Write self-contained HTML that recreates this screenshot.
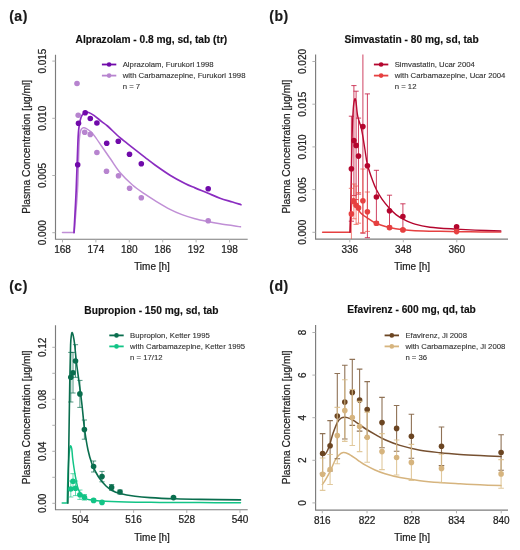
<!DOCTYPE html>
<html><head><meta charset="utf-8"><style>
html,body{margin:0;padding:0;background:#fff;}
svg{display:block;filter:blur(0.35px);}
text{font-family:"Liberation Sans", sans-serif;fill:#222;stroke:#222;stroke-width:0.22px;}
.tl{font-size:10px;}
.al{font-size:10.2px;}
.ti{font-size:10.2px;font-weight:bold;fill:#111;stroke:#111;stroke-width:0.15px;}
.pl{font-size:14px;font-weight:bold;fill:#1a1a1a;stroke:#1a1a1a;stroke-width:0.2px;letter-spacing:0.5px;}
.lg{font-size:7.75px;fill:#333;stroke:#333;stroke-width:0.12px;}
</style></head><body>
<svg width="520" height="550" viewBox="0 0 520 550">
<defs><clipPath id="cb"><rect x="316" y="54.6" width="192" height="184.4"/></clipPath></defs>
<rect width="520" height="550" fill="#fff"/>
<path d="M55.5 54.8V239.2H247.7" fill="none" stroke="#7c7c7c" stroke-width="1.15"/>
<path d="M62.5 239.2v3.2M95.9 239.2v3.2M129.3 239.2v3.2M162.71 239.2v3.2M196.11 239.2v3.2M229.51 239.2v3.2M55.5 232.7h-3.2M55.5 175.5h-3.2M55.5 118.3h-3.2M55.5 61.1h-3.2" stroke="#a8a8a8" stroke-width="0.9"/>
<text x="62.5" y="252.6" text-anchor="middle" class="tl">168</text>
<text x="95.9" y="252.6" text-anchor="middle" class="tl">174</text>
<text x="129.3" y="252.6" text-anchor="middle" class="tl">180</text>
<text x="162.71" y="252.6" text-anchor="middle" class="tl">186</text>
<text x="196.11" y="252.6" text-anchor="middle" class="tl">192</text>
<text x="229.51" y="252.6" text-anchor="middle" class="tl">198</text>
<text transform="translate(46 232.7) rotate(-90)" text-anchor="middle" class="tl">0.000</text>
<text transform="translate(46 175.5) rotate(-90)" text-anchor="middle" class="tl">0.005</text>
<text transform="translate(46 118.3) rotate(-90)" text-anchor="middle" class="tl">0.010</text>
<text transform="translate(46 61.1) rotate(-90)" text-anchor="middle" class="tl">0.015</text>
<text x="152" y="270" text-anchor="middle" class="tl">Time [h]</text>
<text transform="translate(30.3 146.8) rotate(-90)" text-anchor="middle" class="tl al">Plasma Concentration [µg/ml]</text>
<text x="151.4" y="43.1" text-anchor="middle" class="ti">Alprazolam - 0.8 mg, sd, tab (tr)</text>
<text x="9.2" y="20.9" class="pl">(a)</text>
<path d="M62.5 232.6L74.2 232.6C74.75 225.5 76.7 204.6 77.5 190C78.3 175.4 78.55 154.58 79 145C79.45 135.42 79.73 135.22 80.2 132.5C80.67 129.78 81.25 129.48 81.8 128.7C82.35 127.92 82.8 127.87 83.5 127.8C84.2 127.73 84.75 127.62 86 128.3C87.25 128.98 89.5 130.52 91 131.9C92.5 133.28 93.22 134.22 95 136.6C96.78 138.98 99.13 142.5 101.7 146.2C104.27 149.9 107.35 154.42 110.4 158.8C113.45 163.18 116.32 168.13 120 172.5C123.68 176.87 128.33 181.38 132.5 185C136.67 188.62 141.25 191.6 145 194.2C148.75 196.8 150.83 198.08 155 200.6C159.17 203.12 165.5 206.97 170 209.3C174.5 211.63 177.83 213.03 182 214.6C186.17 216.17 190.75 217.55 195 218.7C199.25 219.85 203.33 220.65 207.5 221.5C211.67 222.35 214.5 222.92 220 223.8C225.5 224.68 237.08 226.3 240.5 226.8" fill="none" stroke="#c08fd6" stroke-width="1.5" stroke-linejoin="round" stroke-linecap="round"/>
<path d="M74 232.6C74.37 225.5 75.53 205.43 76.2 190C76.87 174.57 77.48 150.83 78 140C78.52 129.17 78.8 128.75 79.3 125C79.8 121.25 80.38 119.33 81 117.5C81.62 115.67 82.25 114.83 83 114C83.75 113.17 84.55 112.75 85.5 112.5C86.45 112.25 87.3 112.02 88.7 112.5C90.1 112.98 91.73 113.88 93.9 115.4C96.07 116.92 99.43 119.83 101.7 121.6C103.97 123.37 104.45 123.32 107.5 126C110.55 128.68 115.83 134.1 120 137.7C124.17 141.3 128.33 144.32 132.5 147.6C136.67 150.88 141.25 154.5 145 157.4C148.75 160.3 150.83 162.03 155 165C159.17 167.97 165 172.12 170 175.2C175 178.28 180.83 181.38 185 183.5C189.17 185.62 191.25 186.32 195 187.9C198.75 189.48 203.33 191.28 207.5 193C211.67 194.72 215.83 196.7 220 198.2C224.17 199.7 229 200.92 232.5 202C236 203.08 239.58 204.25 241 204.7" fill="none" stroke="#8a2cc0" stroke-width="1.7" stroke-linejoin="round" stroke-linecap="round"/>
<circle cx="78.5" cy="123.3" r="2.8" fill="#700aaa"/><circle cx="85.2" cy="112.8" r="2.8" fill="#700aaa"/><circle cx="90.3" cy="118.5" r="2.8" fill="#700aaa"/><circle cx="96.9" cy="123" r="2.8" fill="#700aaa"/><circle cx="106.7" cy="143.2" r="2.8" fill="#700aaa"/><circle cx="118.3" cy="141.2" r="2.8" fill="#700aaa"/><circle cx="129.5" cy="154.2" r="2.8" fill="#700aaa"/><circle cx="141.3" cy="163.8" r="2.8" fill="#700aaa"/><circle cx="77.7" cy="164.8" r="2.8" fill="#700aaa"/><circle cx="208.2" cy="188.8" r="2.8" fill="#700aaa"/>
<circle cx="78.2" cy="115.2" r="2.8" fill="#b784cf"/><circle cx="84.7" cy="132.2" r="2.8" fill="#b784cf"/><circle cx="90.3" cy="134.4" r="2.8" fill="#b784cf"/><circle cx="96.9" cy="152.5" r="2.8" fill="#b784cf"/><circle cx="106.5" cy="171.3" r="2.8" fill="#b784cf"/><circle cx="118.5" cy="175.8" r="2.8" fill="#b784cf"/><circle cx="129.6" cy="188.3" r="2.8" fill="#b784cf"/><circle cx="141.3" cy="197.8" r="2.8" fill="#b784cf"/><circle cx="77" cy="83.5" r="2.8" fill="#b784cf"/><circle cx="208.2" cy="220.8" r="2.8" fill="#b784cf"/>
<path d="M101.9 64.5h14.4" stroke="#700aaa" stroke-width="1.8"/>
<circle cx="109.1" cy="64.5" r="2.3" fill="#700aaa"/>
<text x="122.7" y="67.3" class="lg">Alprazolam, Furukori 1998</text>
<path d="M101.9 75.6h14.4" stroke="#b784cf" stroke-width="1.8"/>
<circle cx="109.1" cy="75.6" r="2.3" fill="#b784cf"/>
<text x="122.7" y="78.4" class="lg">with Carbamazepine, Furukori 1998</text>
<text x="122.7" y="89" class="lg">n = 7</text>
<path d="M315.6 54.6V239.1H508" fill="none" stroke="#7c7c7c" stroke-width="1.15"/>
<path d="M349.8 239.1v3.2M403.3 239.1v3.2M456.79 239.1v3.2M315.6 232.3h-3.2M315.6 189.6h-3.2M315.6 146.9h-3.2M315.6 104.2h-3.2M315.6 61.5h-3.2" stroke="#a8a8a8" stroke-width="0.9"/>
<text x="349.8" y="252.5" text-anchor="middle" class="tl">336</text>
<text x="403.3" y="252.5" text-anchor="middle" class="tl">348</text>
<text x="456.79" y="252.5" text-anchor="middle" class="tl">360</text>
<text transform="translate(306.1 232.3) rotate(-90)" text-anchor="middle" class="tl">0.000</text>
<text transform="translate(306.1 189.6) rotate(-90)" text-anchor="middle" class="tl">0.005</text>
<text transform="translate(306.1 146.9) rotate(-90)" text-anchor="middle" class="tl">0.010</text>
<text transform="translate(306.1 104.2) rotate(-90)" text-anchor="middle" class="tl">0.015</text>
<text transform="translate(306.1 61.5) rotate(-90)" text-anchor="middle" class="tl">0.020</text>
<text x="412.2" y="269.9" text-anchor="middle" class="tl">Time [h]</text>
<text transform="translate(290.4 146.65) rotate(-90)" text-anchor="middle" class="tl al">Plasma Concentration [µg/ml]</text>
<text x="411.6" y="42.9" text-anchor="middle" class="ti">Simvastatin - 80 mg, sd, tab</text>
<text x="269.3" y="20.9" class="pl">(b)</text>
<path d="M322.6 232.3L350.1 232.3C350.22 229.42 350.52 220.05 350.8 215C351.08 209.95 351.43 204.75 351.8 202C352.17 199.25 352.53 198.87 353 198.5C353.47 198.13 354.02 198.8 354.6 199.8C355.18 200.8 355.67 202.53 356.5 204.5C357.33 206.47 358.52 209.85 359.6 211.6C360.68 213.35 361.8 214 363 215C364.2 216 364.95 216.38 366.8 217.6C368.65 218.82 371.9 221.1 374.1 222.3C376.3 223.5 377.45 223.92 380 224.8C382.55 225.68 385.57 226.77 389.4 227.6C393.23 228.43 398.73 229.28 403 229.8C407.27 230.32 408.83 230.45 415 230.7C421.17 230.95 430.83 231.12 440 231.3C449.17 231.48 459.87 231.68 470 231.8C480.13 231.92 495.67 231.97 500.8 232" fill="none" stroke="#e64040" stroke-width="1.5" stroke-linejoin="round" stroke-linecap="round"/>
<path d="M350.1 232.3C350.23 226.92 350.58 215.38 350.9 200C351.22 184.62 351.62 155 352 140C352.38 125 352.77 116.75 353.2 110C353.63 103.25 354.15 101 354.6 99.5C355.05 98 355.38 98.22 355.9 101C356.42 103.78 356.77 111.52 357.7 116.2C358.63 120.88 360.33 123.8 361.5 129.1C362.67 134.4 363.72 142.1 364.7 148C365.68 153.9 366.12 159.17 367.4 164.5C368.68 169.83 370.88 175.78 372.4 180C373.92 184.22 374.9 186.6 376.5 189.8C378.1 193 379.85 196.12 382 199.2C384.15 202.28 387.07 205.73 389.4 208.3C391.73 210.87 393.7 212.8 396 214.6C398.3 216.4 400.03 217.5 403.2 219.1C406.37 220.7 410.53 222.85 415 224.2C419.47 225.55 423.17 226.38 430 227.2C436.83 228.02 448.5 228.62 456 229.1C463.5 229.58 467.53 229.8 475 230.1C482.47 230.4 496.5 230.77 500.8 230.9" fill="none" stroke="#b4062e" stroke-width="1.4" stroke-linejoin="round" stroke-linecap="round"/>
<path d="M351.4 116.2V221.2M348.8 116.2h5.2M348.8 221.2h5.2M353.9 85.6V195.6M351.3 85.6h5.2M351.3 195.6h5.2M356.1 91.2V199.6M353.5 91.2h5.2M353.5 199.6h5.2M358.5 118.1V194.1M355.9 118.1h5.2M355.9 194.1h5.2M362.9 20V233.2M360.3 20h5.2M360.3 233.2h5.2M367.4 93.9V237.7M364.8 93.9h5.2M364.8 237.7h5.2M376.4 170.3V223.7M373.8 170.3h5.2M373.8 223.7h5.2M389.5 195.2V226.4M386.9 195.2h5.2M386.9 226.4h5.2M402.9 203.8V229.2M400.3 203.8h5.2M400.3 229.2h5.2" fill="none" stroke="rgba(195,20,60,0.8)" stroke-width="1" clip-path="url(#cb)"/>
<circle cx="351.4" cy="168.7" r="2.8" fill="#b4062e"/><circle cx="353.9" cy="140.6" r="2.8" fill="#b4062e"/><circle cx="356.1" cy="145.4" r="2.8" fill="#b4062e"/><circle cx="358.5" cy="156.1" r="2.8" fill="#b4062e"/><circle cx="362.9" cy="126.6" r="2.8" fill="#b4062e"/><circle cx="367.4" cy="165.8" r="2.8" fill="#b4062e"/><circle cx="376.4" cy="197" r="2.8" fill="#b4062e"/><circle cx="389.5" cy="210.8" r="2.8" fill="#b4062e"/><circle cx="402.9" cy="216.5" r="2.8" fill="#b4062e"/><circle cx="456.6" cy="226.7" r="2.8" fill="#b4062e"/>
<path d="M351.4 188.3V239.5M348.8 188.3h5.2M348.8 239.5h5.2M353.9 184V218.8M351.3 184h5.2M351.3 218.8h5.2M356.1 186V224.4M353.5 186h5.2M353.5 224.4h5.2M358.5 192.6V223.2M355.9 192.6h5.2M355.9 223.2h5.2M362.9 169V232.6M360.3 169h5.2M360.3 232.6h5.2M367.4 192V231.4M364.8 192h5.2M364.8 231.4h5.2M376.4 221.5V225.1M373.8 221.5h5.2M373.8 225.1h5.2M389.5 226V229.2M386.9 226h5.2M386.9 229.2h5.2M402.9 228.6V231.2M400.3 228.6h5.2M400.3 231.2h5.2" fill="none" stroke="rgba(236,80,70,0.7)" stroke-width="1" clip-path="url(#cb)"/>
<circle cx="351.4" cy="213.9" r="2.8" fill="#e64040"/><circle cx="353.9" cy="201.4" r="2.8" fill="#e64040"/><circle cx="356.1" cy="205.2" r="2.8" fill="#e64040"/><circle cx="358.5" cy="207.9" r="2.8" fill="#e64040"/><circle cx="362.9" cy="200.8" r="2.8" fill="#e64040"/><circle cx="367.4" cy="211.7" r="2.8" fill="#e64040"/><circle cx="376.4" cy="223.3" r="2.8" fill="#e64040"/><circle cx="389.5" cy="227.6" r="2.8" fill="#e64040"/><circle cx="402.9" cy="229.9" r="2.8" fill="#e64040"/><circle cx="456.6" cy="231.6" r="2.8" fill="#e64040"/>
<path d="M373.9 64.5h14.4" stroke="#b4062e" stroke-width="1.8"/>
<circle cx="381.1" cy="64.5" r="2.3" fill="#b4062e"/>
<text x="394.7" y="67.3" class="lg">Simvastatin, Ucar 2004</text>
<path d="M373.9 75.6h14.4" stroke="#e64040" stroke-width="1.8"/>
<circle cx="381.1" cy="75.6" r="2.3" fill="#e64040"/>
<text x="394.7" y="78.4" class="lg">with Carbamazepine, Ucar 2004</text>
<text x="394.7" y="89" class="lg">n = 12</text>
<path d="M55.5 325.3V509.7H247.7" fill="none" stroke="#7c7c7c" stroke-width="1.15"/>
<path d="M80.4 509.7v3.2M133.6 509.7v3.2M186.79 509.7v3.2M239.99 509.7v3.2M55.5 503.3h-3.2M55.5 477.3h-3.2M55.5 451.3h-3.2M55.5 425.3h-3.2M55.5 399.3h-3.2M55.5 373.3h-3.2M55.5 347.3h-3.2" stroke="#a8a8a8" stroke-width="0.9"/>
<text x="80.4" y="523.1" text-anchor="middle" class="tl">504</text>
<text x="133.6" y="523.1" text-anchor="middle" class="tl">516</text>
<text x="186.79" y="523.1" text-anchor="middle" class="tl">528</text>
<text x="239.99" y="523.1" text-anchor="middle" class="tl">540</text>
<text transform="translate(46 503.3) rotate(-90)" text-anchor="middle" class="tl">0.00</text>
<text transform="translate(46 451.3) rotate(-90)" text-anchor="middle" class="tl">0.04</text>
<text transform="translate(46 399.3) rotate(-90)" text-anchor="middle" class="tl">0.08</text>
<text transform="translate(46 347.3) rotate(-90)" text-anchor="middle" class="tl">0.12</text>
<text x="152" y="540.5" text-anchor="middle" class="tl">Time [h]</text>
<text transform="translate(30.3 417.3) rotate(-90)" text-anchor="middle" class="tl al">Plasma Concentration [µg/ml]</text>
<text x="151.4" y="313.6" text-anchor="middle" class="ti">Bupropion - 150 mg, sd, tab</text>
<text x="9.2" y="291.4" class="pl">(c)</text>
<path d="M62.2 503L67.2 503C67.3 499.17 67.53 487.5 67.8 480C68.07 472.5 68.45 463.33 68.8 458C69.15 452.67 69.57 450.03 69.9 448C70.23 445.97 70.48 445.63 70.8 445.8C71.12 445.97 71.48 446.88 71.8 449C72.12 451.12 72.33 455.33 72.7 458.5C73.07 461.67 73.57 465.12 74 468C74.43 470.88 74.67 472.47 75.3 475.8C75.93 479.13 77.02 485.2 77.8 488C78.58 490.8 79.25 491.35 80 492.6C80.75 493.85 81.3 494.53 82.3 495.5C83.3 496.47 84.83 497.7 86 498.4C87.17 499.1 86.97 499.25 89.3 499.7C91.63 500.15 93.88 500.7 100 501.1C106.12 501.5 116 501.88 126 502.1C136 502.32 147.67 502.32 160 502.4C172.33 502.48 186.58 502.53 200 502.6C213.42 502.67 233.75 502.77 240.5 502.8" fill="none" stroke="#12c486" stroke-width="1.5" stroke-linejoin="round" stroke-linecap="round"/>
<path d="M67.9 503.2C68.07 492.67 68.58 460.53 68.9 440C69.22 419.47 69.52 395.83 69.8 380C70.08 364.17 70.33 352.5 70.6 345C70.87 337.5 71.13 337.08 71.4 335C71.67 332.92 71.9 332.42 72.2 332.5C72.5 332.58 72.8 333.58 73.2 335.5C73.6 337.42 74.05 339.42 74.6 344C75.15 348.58 75.75 356.62 76.5 363C77.25 369.38 78.18 375.3 79.1 382.3C80.02 389.3 81.12 397.38 82 405C82.88 412.62 83.4 420.5 84.4 428C85.4 435.5 86.73 444 88 450C89.27 456 90.67 460.25 92 464C93.33 467.75 94.67 470 96 472.5C97.33 475 98.33 476.75 100 479C101.67 481.25 104 484.08 106 486C108 487.92 109.67 489.25 112 490.5C114.33 491.75 116.17 492.55 120 493.5C123.83 494.45 130 495.52 135 496.2C140 496.88 143.33 497.17 150 497.6C156.67 498.03 166.67 498.5 175 498.8C183.33 499.1 189.08 499.22 200 499.4C210.92 499.58 233.75 499.82 240.5 499.9" fill="none" stroke="#0a6e4e" stroke-width="1.6" stroke-linejoin="round" stroke-linecap="round"/>
<path d="M70.8 352.4V402M68.2 352.4h5.2M68.2 402h5.2M73 352.4V393M70.4 352.4h5.2M70.4 393h5.2M75.5 344.7V377.3M72.9 344.7h5.2M72.9 377.3h5.2M79.9 380.4V407.4M77.3 380.4h5.2M77.3 407.4h5.2M84.4 420V439.2M81.8 420h5.2M81.8 439.2h5.2M93.6 461V472M91 461h5.2M91 472h5.2M102 471.4V481.8M99.4 471.4h5.2M99.4 481.8h5.2M111.6 484.5V490.3M109 484.5h5.2M109 490.3h5.2M120 490V494M117.4 490h5.2M117.4 494h5.2M173.5 496.5V498.7M170.9 496.5h5.2M170.9 498.7h5.2" fill="none" stroke="rgba(10,110,78,0.7)" stroke-width="1"/>
<circle cx="70.8" cy="377.2" r="2.8" fill="#0a6e4e"/><circle cx="73" cy="372.7" r="2.8" fill="#0a6e4e"/><circle cx="75.5" cy="361" r="2.8" fill="#0a6e4e"/><circle cx="79.9" cy="393.9" r="2.8" fill="#0a6e4e"/><circle cx="84.4" cy="429.6" r="2.8" fill="#0a6e4e"/><circle cx="93.6" cy="466.5" r="2.8" fill="#0a6e4e"/><circle cx="102" cy="476.6" r="2.8" fill="#0a6e4e"/><circle cx="111.6" cy="487.4" r="2.8" fill="#0a6e4e"/><circle cx="120" cy="492" r="2.8" fill="#0a6e4e"/><circle cx="173.5" cy="497.6" r="2.8" fill="#0a6e4e"/>
<path d="M70.8 481V497M68.2 481h5.2M68.2 497h5.2M73 473.7V488.9M70.4 473.7h5.2M70.4 488.9h5.2M75.5 481V495.6M72.9 481h5.2M72.9 495.6h5.2M79.9 490V499.4M77.3 490h5.2M77.3 499.4h5.2M84.4 494.5V500.1M81.8 494.5h5.2M81.8 500.1h5.2M93.6 499V501.8M91 499h5.2M91 501.8h5.2" fill="none" stroke="rgba(18,196,134,0.65)" stroke-width="1"/>
<circle cx="70.8" cy="489" r="2.8" fill="#12c486"/><circle cx="73" cy="481.3" r="2.8" fill="#12c486"/><circle cx="75.5" cy="488.3" r="2.8" fill="#12c486"/><circle cx="79.9" cy="494.7" r="2.8" fill="#12c486"/><circle cx="84.4" cy="497.3" r="2.8" fill="#12c486"/><circle cx="93.6" cy="500.4" r="2.8" fill="#12c486"/><circle cx="102" cy="502.4" r="2.8" fill="#12c486"/>
<path d="M109.3 335.4h14.4" stroke="#0a6e4e" stroke-width="1.8"/>
<circle cx="116.5" cy="335.4" r="2.3" fill="#0a6e4e"/>
<text x="130.1" y="338.2" class="lg">Bupropion, Ketter 1995</text>
<path d="M109.3 346.4h14.4" stroke="#12c486" stroke-width="1.8"/>
<circle cx="116.5" cy="346.4" r="2.3" fill="#12c486"/>
<text x="130.1" y="349.2" class="lg">with Carbamazepine, Ketter 1995</text>
<text x="130.1" y="359.9" class="lg">n = 17/12</text>
<path d="M315.6 325.1V510.1H508" fill="none" stroke="#7c7c7c" stroke-width="1.15"/>
<path d="M322.3 510.1v3.2M367.03 510.1v3.2M411.76 510.1v3.2M456.49 510.1v3.2M501.22 510.1v3.2M315.6 502.9h-3.2M315.6 460.3h-3.2M315.6 417.7h-3.2M315.6 375.1h-3.2M315.6 332.5h-3.2" stroke="#a8a8a8" stroke-width="0.9"/>
<text x="322.3" y="523.5" text-anchor="middle" class="tl">816</text>
<text x="367.03" y="523.5" text-anchor="middle" class="tl">822</text>
<text x="411.76" y="523.5" text-anchor="middle" class="tl">828</text>
<text x="456.49" y="523.5" text-anchor="middle" class="tl">834</text>
<text x="501.22" y="523.5" text-anchor="middle" class="tl">840</text>
<text transform="translate(306.1 502.9) rotate(-90)" text-anchor="middle" class="tl">0</text>
<text transform="translate(306.1 460.3) rotate(-90)" text-anchor="middle" class="tl">2</text>
<text transform="translate(306.1 417.7) rotate(-90)" text-anchor="middle" class="tl">4</text>
<text transform="translate(306.1 375.1) rotate(-90)" text-anchor="middle" class="tl">6</text>
<text transform="translate(306.1 332.5) rotate(-90)" text-anchor="middle" class="tl">8</text>
<text x="412.2" y="540.9" text-anchor="middle" class="tl">Time [h]</text>
<text transform="translate(290.4 417.4) rotate(-90)" text-anchor="middle" class="tl al">Plasma Concentration [µg/ml]</text>
<text x="411.6" y="313.4" text-anchor="middle" class="ti">Efavirenz - 600 mg, qd, tab</text>
<text x="269.3" y="291.4" class="pl">(d)</text>
<path d="M322.3 484.5C322.75 483.85 323.8 482.57 325 480.6C326.2 478.63 327.83 476.05 329.5 472.7C331.17 469.35 333.42 463.45 335 460.5C336.58 457.55 337.63 456.32 339 455C340.37 453.68 341.7 452.8 343.2 452.6C344.7 452.4 346.03 452.88 348 453.8C349.97 454.72 353 456.78 355 458.1C357 459.42 358.18 460.48 360 461.7C361.82 462.92 363.4 464.02 365.9 465.4C368.4 466.78 371.82 468.6 375 470C378.18 471.4 380.83 472.53 385 473.8C389.17 475.07 394.17 476.45 400 477.6C405.83 478.75 413.33 479.87 420 480.7C426.67 481.53 433.33 482.08 440 482.6C446.67 483.12 453.33 483.43 460 483.8C466.67 484.17 473.17 484.5 480 484.8C486.83 485.1 497.5 485.47 501 485.6" fill="none" stroke="#d6b47e" stroke-width="1.5" stroke-linejoin="round" stroke-linecap="round"/>
<path d="M322.3 454.3C322.67 454.42 323.72 455.47 324.5 455C325.28 454.53 326.17 453.08 327 451.5C327.83 449.92 328.47 448.62 329.5 445.5C330.53 442.38 331.83 436.75 333.2 432.8C334.57 428.85 336.4 424.23 337.7 421.8C339 419.37 339.78 418.95 341 418.2C342.22 417.45 343.5 417.23 345 417.3C346.5 417.37 348.33 417.92 350 418.6C351.67 419.28 353.33 420.35 355 421.4C356.67 422.45 358.18 423.63 360 424.9C361.82 426.17 363.4 427.42 365.9 429C368.4 430.58 371.82 432.62 375 434.4C378.18 436.18 380.83 437.87 385 439.7C389.17 441.53 394.17 443.65 400 445.4C405.83 447.15 413.33 448.98 420 450.2C426.67 451.42 433.33 452 440 452.7C446.67 453.4 453.33 453.92 460 454.4C466.67 454.88 473.17 455.23 480 455.6C486.83 455.97 497.5 456.43 501 456.6" fill="none" stroke="#765030" stroke-width="1.5" stroke-linejoin="round" stroke-linecap="round"/>
<path d="M322.6 433.6V473.4M319.8 433.6h5.6M319.8 473.4h5.6M330.1 420.6V471M327.3 420.6h5.6M327.3 471h5.6M337.3 373.5V458.7M334.5 373.5h5.6M334.5 458.7h5.6M344.8 365.2V439M342 365.2h5.6M342 439h5.6M352.3 359.4V425.4M349.5 359.4h5.6M349.5 425.4h5.6M359.6 369.1V431.1M356.8 369.1h5.6M356.8 431.1h5.6M367.2 381.6V437.6M364.4 381.6h5.6M364.4 437.6h5.6M382 397.4V447.8M379.2 397.4h5.6M379.2 447.8h5.6M396.6 405.5V451.3M393.8 405.5h5.6M393.8 451.3h5.6M411.4 414.2V458.2M408.6 414.2h5.6M408.6 458.2h5.6M441.5 427V465.6M438.7 427h5.6M438.7 465.6h5.6M501.1 434.8V470.2M498.3 434.8h5.6M498.3 470.2h5.6" fill="none" stroke="rgba(112,74,38,0.78)" stroke-width="1.1"/>
<circle cx="322.6" cy="453.5" r="2.8" fill="#6b4522"/><circle cx="330.1" cy="445.8" r="2.8" fill="#6b4522"/><circle cx="337.3" cy="416.1" r="2.8" fill="#6b4522"/><circle cx="344.8" cy="402.1" r="2.8" fill="#6b4522"/><circle cx="352.3" cy="392.4" r="2.8" fill="#6b4522"/><circle cx="359.6" cy="400.1" r="2.8" fill="#6b4522"/><circle cx="367.2" cy="409.6" r="2.8" fill="#6b4522"/><circle cx="382" cy="422.6" r="2.8" fill="#6b4522"/><circle cx="396.6" cy="428.4" r="2.8" fill="#6b4522"/><circle cx="411.4" cy="436.2" r="2.8" fill="#6b4522"/><circle cx="441.5" cy="446.3" r="2.8" fill="#6b4522"/><circle cx="501.1" cy="452.5" r="2.8" fill="#6b4522"/>
<path d="M322.6 458V490.4M319.8 458h5.6M319.8 490.4h5.6M330.1 454.5V484.5M327.3 454.5h5.6M327.3 484.5h5.6M337.3 407.4V463.8M334.5 407.4h5.6M334.5 463.8h5.6M344.8 379.8V441.4M342 379.8h5.6M342 441.4h5.6M352.3 389.5V445.5M349.5 389.5h5.6M349.5 445.5h5.6M359.6 401.4V451.6M356.8 401.4h5.6M356.8 451.6h5.6M367.2 412.1V462.3M364.4 412.1h5.6M364.4 462.3h5.6M382 433.6V469.6M379.2 433.6h5.6M379.2 469.6h5.6M396.6 440V475M393.8 440h5.6M393.8 475h5.6M411.4 444.4V480.4M408.6 444.4h5.6M408.6 480.4h5.6M441.5 454.2V482.6M438.7 454.2h5.6M438.7 482.6h5.6M501.1 459.6V488.2M498.3 459.6h5.6M498.3 488.2h5.6" fill="none" stroke="rgba(220,192,140,0.85)" stroke-width="1.1"/>
<circle cx="322.6" cy="474.2" r="2.8" fill="#d6b47e"/><circle cx="330.1" cy="469.5" r="2.8" fill="#d6b47e"/><circle cx="337.3" cy="435.6" r="2.8" fill="#d6b47e"/><circle cx="344.8" cy="410.6" r="2.8" fill="#d6b47e"/><circle cx="352.3" cy="417.5" r="2.8" fill="#d6b47e"/><circle cx="359.6" cy="426.5" r="2.8" fill="#d6b47e"/><circle cx="367.2" cy="437.2" r="2.8" fill="#d6b47e"/><circle cx="382" cy="451.6" r="2.8" fill="#d6b47e"/><circle cx="396.6" cy="457.5" r="2.8" fill="#d6b47e"/><circle cx="411.4" cy="462.4" r="2.8" fill="#d6b47e"/><circle cx="441.5" cy="468.4" r="2.8" fill="#d6b47e"/><circle cx="501.1" cy="473.9" r="2.8" fill="#d6b47e"/>
<path d="M384.6 335.4h14.4" stroke="#6b4522" stroke-width="1.8"/>
<circle cx="391.8" cy="335.4" r="2.3" fill="#6b4522"/>
<text x="405.4" y="338.2" class="lg">Efavirenz, Ji 2008</text>
<path d="M384.6 346.4h14.4" stroke="#d6b47e" stroke-width="1.8"/>
<circle cx="391.8" cy="346.4" r="2.3" fill="#d6b47e"/>
<text x="405.4" y="349.2" class="lg">with Carbamazepine, Ji 2008</text>
<text x="405.4" y="359.9" class="lg">n = 36</text>
</svg>
</body></html>
